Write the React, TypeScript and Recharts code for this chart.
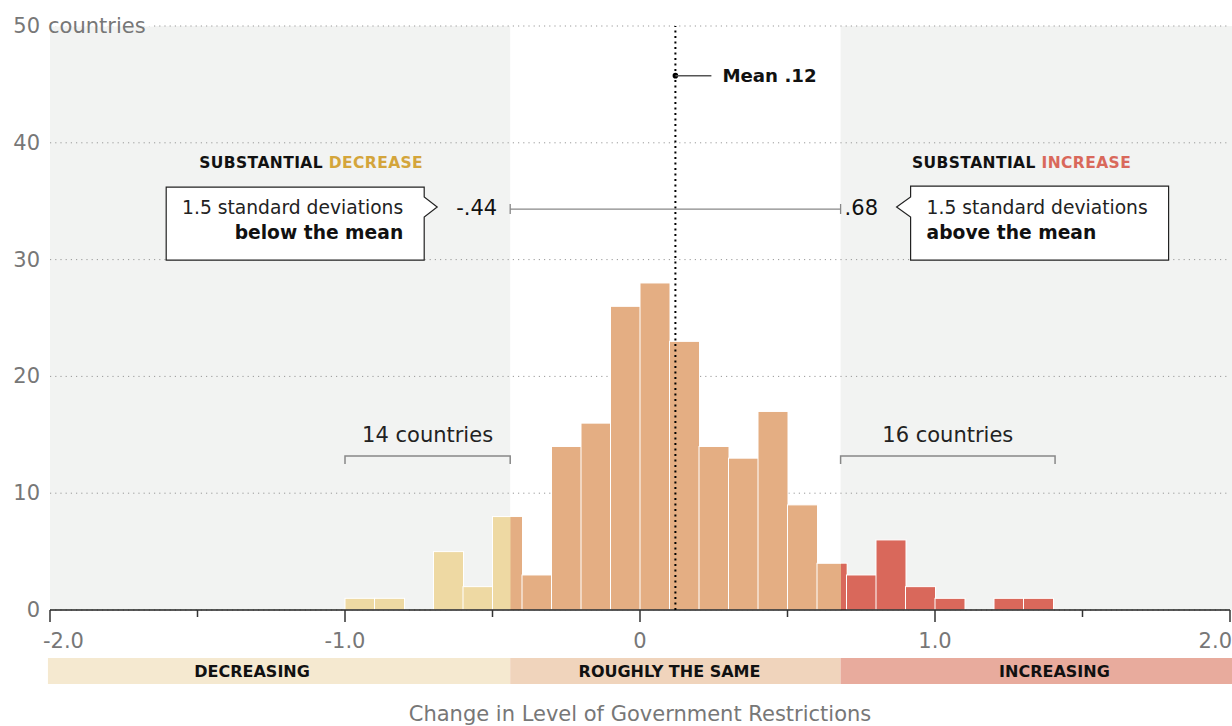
import React from "react";
import {
  ComposedChart,
  Bar,
  XAxis,
  YAxis,
  CartesianGrid,
  ReferenceArea,
  ReferenceLine,
  ReferenceDot,
} from "recharts";

// histogram bins, 0.1 wide, from -2.0 to 2.0
const binStarts = [
  -2.0, -1.9, -1.8, -1.7, -1.6, -1.5, -1.4, -1.3, -1.2, -1.1,
  -1.0, -0.9, -0.8, -0.7, -0.6, -0.5, -0.4, -0.3, -0.2, -0.1,
  0.0, 0.1, 0.2, 0.3, 0.4, 0.5, 0.6, 0.7, 0.8, 0.9,
  1.0, 1.1, 1.2, 1.3, 1.4, 1.5, 1.6, 1.7, 1.8, 1.9,
];
const countryCounts = [
  0, 0, 0, 0, 0, 0, 0, 0, 0, 0,
  1, 1, 0, 5, 2, 8, 3, 14, 16, 26,
  28, 23, 14, 13, 17, 9, 4, 3, 6, 2,
  1, 0, 1, 1, 0, 0, 0, 0, 0, 0,
];

const MEAN = 0.12;
const SD_LOW = -0.44;
const SD_HIGH = 0.68;

const xTicks = [-2, -1.5, -1, -0.5, 0, 0.5, 1, 1.5, 2];
const yTicks = [0, 10, 20, 30, 40, 50];

// zones below the axis
const zoneEdges = [-2.007, SD_LOW, SD_HIGH, 2.007];
const zoneNames = ["DECREASING", "ROUGHLY THE SAME", "INCREASING"];
const zoneLabelAt = [-1.315, 0.1, 1.405];
const barColors = ["#eed9a3", "#e4ae83", "#d9685b"];
const bandColors = ["#f5e9d0", "#f0d4bc", "#e8ab9d"];

// "n countries" brackets
const bracketFrom = [-1.0, SD_HIGH];
const bracketTo = [SD_LOW, 1.407];
const bracketLabels = ["14 countries", "16 countries"];

const FONT = "'DejaVu Sans', Verdana, sans-serif";
const GREY_TEXT = "#777";

const data = binStarts.map((bin, i) => ({ bin, mid: bin + 0.05, count: countryCounts[i] }));

const BinShape = (props: any) => {
  const { x, y, width, height, payload } = props;
  if (!height || height <= 0) return null;
  const start = payload.bin;
  const end = start + 0.1;
  const pieces: { z: number; a: number; b: number }[] = [];
  for (let z = 0; z < 3; z++) {
    const a = Math.max(start, zoneEdges[z]);
    const b = Math.min(end, zoneEdges[z + 1]);
    if (b > a + 1e-9) pieces.push({ z, a, b });
  }
  const px = (v: number) => x + ((v - start) / 0.1) * width;
  return (
    <g>
      <rect x={x} y={y} width={width} height={height} fill={barColors[pieces[0].z]} stroke="#fff" strokeWidth={1} />
      {pieces.slice(1).map((p) => (
        <rect
          key={p.z}
          x={px(p.a)}
          y={y + 0.5}
          width={px(p.b) - px(p.a) - 0.5}
          height={height - 0.5}
          fill={barColors[p.z]}
        />
      ))}
    </g>
  );
};

const XTick = (props: any) => {
  const { x, y, payload } = props;
  const v = payload.value;
  const major = Number.isInteger(v);
  let anchor: any = "middle";
  let dx = 0;
  if (v === -2) {
    anchor = "start";
    dx = -7;
  }
  if (v === 2) {
    anchor = "end";
    dx = 2;
  }
  return (
    <g>
      <line x1={x} y1={y} x2={x} y2={y + (major ? 12 : 7)} stroke="#333" strokeWidth={1.5} />
      {major && (
        <text x={x + dx} y={y + 38} textAnchor={anchor} fill={GREY_TEXT} fontSize={21} fontFamily={FONT}>
          {v === 0 ? "0" : v.toFixed(1)}
        </text>
      )}
    </g>
  );
};

const YTick = (props: any) => {
  const { x, y, payload } = props;
  const top = payload.value === 50;
  return (
    <g>
      {top && <rect x={x + 4} y={y - 8} width={110} height={8.6} fill="#fff" />}
      <text x={x} y={y + 7} textAnchor="end" fill={GREY_TEXT} fontSize={21} fontFamily={FONT}>
        {payload.value}
      </text>
      {top && (
        <text x={x + 8} y={y + 7} fill={GREY_TEXT} fontSize={21} fontFamily={FONT}>
          countries
        </text>
      )}
    </g>
  );
};

const MeanMarker = ({ cx, cy }: any) => (
  <g>
    <circle cx={cx} cy={cy} r={2.8} fill="#000" />
    <line x1={cx} y1={cy} x2={cx + 36} y2={cy} stroke="#555" strokeWidth={1.5} />
    <text x={cx + 47} y={cy + 6} fontSize={18.2} fontWeight="bold" fill="#111" fontFamily={FONT}>
      Mean {".12"}
    </text>
  </g>
);

const SdLine = (props: any) => {
  const { x1, y1, x2 } = props;
  return (
    <path
      d={`M${x1},${y1 - 5} V${y1 + 5} M${x1},${y1} H${x2} M${x2},${y1 - 5} V${y1 + 5}`}
      stroke="#888"
      strokeWidth={1.3}
      fill="none"
    />
  );
};

const LowCallout = ({ cx, cy }: any) => (
  <g fontFamily={FONT}>
    <text x={cx - 199} y={cy - 41} textAnchor="middle" fontSize={15.5} fontWeight="bold" letterSpacing={0.4}>
      <tspan fill="#111">SUBSTANTIAL </tspan>
      <tspan fill="#d4a53b">DECREASE</tspan>
    </text>
    <path
      d={`M${cx - 344},${cy - 22} H${cx - 86} V${cy - 12} L${cx - 73},${cy - 2} L${cx - 86},${cy + 8} V${cy + 51} H${cx - 344} Z`}
      fill="#fff"
      stroke="#222"
      strokeWidth={1.2}
    />
    <text x={cx - 107} y={cy + 5} textAnchor="end" fontSize={18.7} fill="#222">
      1.5 standard deviations
    </text>
    <text x={cx - 107} y={cy + 30} textAnchor="end" fontSize={18.7} fontWeight="bold" fill="#111">
      below the mean
    </text>
    <text x={cx - 13} y={cy + 6} textAnchor="end" fontSize={21} fill="#111">
      -.44
    </text>
  </g>
);

const HighCallout = ({ cx, cy }: any) => (
  <g fontFamily={FONT}>
    <text x={cx + 181} y={cy - 41} textAnchor="middle" fontSize={15.5} fontWeight="bold" letterSpacing={0.4}>
      <tspan fill="#111">SUBSTANTIAL </tspan>
      <tspan fill="#d9685b">INCREASE</tspan>
    </text>
    <path
      d={`M${cx + 70},${cy - 23} H${cx + 328} V${cy + 51} H${cx + 70} V${cy + 8} L${cx + 56},${cy - 2} L${cx + 70},${cy - 12} Z`}
      fill="#fff"
      stroke="#222"
      strokeWidth={1.2}
    />
    <text x={cx + 86} y={cy + 5} fontSize={18.7} fill="#222">
      1.5 standard deviations
    </text>
    <text x={cx + 86} y={cy + 30} fontSize={18.7} fontWeight="bold" fill="#111">
      above the mean
    </text>
    <text x={cx + 4} y={cy + 6} fontSize={21} fill="#111">
      .68
    </text>
  </g>
);

const makeBracket = (label: string) => (props: any) => {
  const { x1, y1, x2 } = props;
  return (
    <g>
      <path d={`M${x1},${y1 + 8} V${y1} H${x2} V${y1 + 8}`} stroke="#888" strokeWidth={1.5} fill="none" />
      <text x={(x1 + x2) / 2} y={y1 - 14} textAnchor="middle" fontSize={21} fill="#222" fontFamily={FONT}>
        {label}
      </text>
    </g>
  );
};

const makeZoneLabel = (label: string) => ({ cx, cy }: any) => (
  <text x={cx} y={cy + 6} textAnchor="middle" fontSize={16} fontWeight="bold" fill="#111" fontFamily={FONT}>
    {label}
  </text>
);

export default function App() {
  return (
    <div style={{ position: "absolute", left: 0, top: 0, width: 1232, height: 726, fontFamily: FONT, background: "#fff" }}>
      <ComposedChart
        width={1232}
        height={726}
        data={data}
        margin={{ top: 26, right: 2, left: 0, bottom: 0 }}
        barCategoryGap={0}
        barGap={0}
      >
        {/* shaded "substantial" regions */}
        <ReferenceArea x1={-2} x2={SD_LOW} y1={0} y2={50} fill="#f2f3f2" fillOpacity={1} ifOverflow="visible" zIndex={-150} />
        <ReferenceArea x1={SD_HIGH} x2={2.007} y1={0} y2={50} fill="#f2f3f2" fillOpacity={1} ifOverflow="visible" zIndex={-150} />

        {zoneNames.map((name, i) => (
          <ReferenceArea
            key={name}
            x1={zoneEdges[i]}
            x2={zoneEdges[i + 1]}
            y1={-4.11}
            y2={-6.34}
            fill={bandColors[i]}
            fillOpacity={1}
            ifOverflow="visible"
          />
        ))}

        <CartesianGrid vertical={false} stroke="#999" strokeDasharray="1.2 4" />

        <XAxis
          dataKey="mid"
          type="number"
          domain={[-2, 2]}
          allowDataOverflow
          ticks={xTicks}
          interval={0}
          height={116}
          tickSize={0}
          tickMargin={0}
          tickLine={false}
          axisLine={{ stroke: "#222", strokeWidth: 1.5 }}
          tick={<XTick />}
          label={{
            value: "Change in Level of Government Restrictions",
            position: "insideBottom",
            offset: 5,
            fill: GREY_TEXT,
            fontSize: 21,
            fontFamily: FONT,
          }}
        />
        <XAxis xAxisId="bins" dataKey="bin" type="category" hide />
        <YAxis
          domain={[0, 50]}
          ticks={yTicks}
          width={50}
          tickSize={0}
          tickMargin={10}
          axisLine={false}
          tickLine={false}
          tick={<YTick />}
        />

        <Bar xAxisId="bins" dataKey="count" shape={<BinShape />} isAnimationActive={false} />

        <ReferenceLine x={MEAN} stroke="#000" strokeWidth={2} strokeDasharray="2 3.5" zIndex={700} />
        <ReferenceDot x={MEAN} y={45.75} r={3} shape={MeanMarker} ifOverflow="visible" zIndex={700} />

        <ReferenceLine
          segment={[
            { x: SD_LOW, y: 34.33 },
            { x: SD_HIGH, y: 34.33 },
          ]}
          shape={SdLine}
          ifOverflow="visible"
          zIndex={700}
        />
        <ReferenceDot x={SD_LOW} y={34.33} r={1} shape={LowCallout} ifOverflow="visible" zIndex={700} />
        <ReferenceDot x={SD_HIGH} y={34.33} r={1} shape={HighCallout} ifOverflow="visible" zIndex={700} />

        {bracketLabels.map((label, i) => (
          <ReferenceLine
            key={label}
            segment={[
              { x: bracketFrom[i], y: 13.18 },
              { x: bracketTo[i], y: 13.18 },
            ]}
            shape={makeBracket(label)}
            ifOverflow="visible"
            zIndex={700}
          />
        ))}

        {zoneNames.map((name, i) => (
          <ReferenceDot
            key={"lbl" + name}
            x={zoneLabelAt[i]}
            y={-5.2}
            r={1}
            shape={makeZoneLabel(name)}
            ifOverflow="visible"
            zIndex={700}
          />
        ))}
      </ComposedChart>
    </div>
  );
}
